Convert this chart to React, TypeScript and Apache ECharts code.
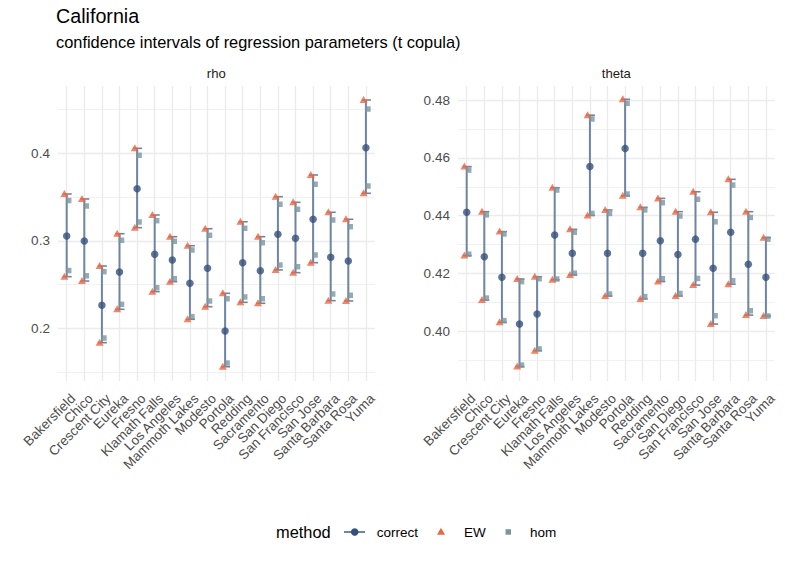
import React, { useEffect, useRef } from 'react';
import * as echarts from 'echarts';

const cities = ['Bakersfield', 'Chico', 'Crescent City', 'Eureka', 'Fresno', 'Klamath Falls', 'Los Angeles', 'Mammoth Lakes', 'Modesto', 'Portola', 'Redding', 'Sacramento', 'San Diego', 'San Francisco', 'San Jose', 'Santa Barbara', 'Santa Rosa', 'Yuma'];

// rho panel
const rhoEstimate = [0.3055, 0.2998, 0.2263, 0.2643, 0.3595, 0.2845, 0.278, 0.2514, 0.2686, 0.197, 0.275, 0.2658, 0.3074, 0.3028, 0.3246, 0.2811, 0.2769, 0.4064];
const rhoCorrectLower = [0.259, 0.254, 0.1836, 0.2217, 0.315, 0.2419, 0.2533, 0.2103, 0.2247, 0.1561, 0.2297, 0.2286, 0.2667, 0.2636, 0.275, 0.2316, 0.2312, 0.3543];
const rhoCorrectUpper = [0.3535, 0.3478, 0.2712, 0.3081, 0.4057, 0.3295, 0.3047, 0.2944, 0.3138, 0.24, 0.3218, 0.3047, 0.3504, 0.344, 0.3752, 0.3326, 0.3246, 0.4609];
const rhoEwLower = [0.259, 0.254, 0.1836, 0.2217, 0.315, 0.2419, 0.2533, 0.2103, 0.2247, 0.1561, 0.2297, 0.2286, 0.2667, 0.2636, 0.275, 0.2316, 0.2312, 0.3543];
const rhoEwUpper = [0.3535, 0.3478, 0.2712, 0.3081, 0.4057, 0.3295, 0.3047, 0.2944, 0.3138, 0.24, 0.3218, 0.3047, 0.3504, 0.344, 0.3752, 0.3326, 0.3246, 0.4609];
const rhoHomLower = [0.266, 0.26, 0.1889, 0.2274, 0.3215, 0.2464, 0.2567, 0.2133, 0.2312, 0.1603, 0.2358, 0.2338, 0.2723, 0.2704, 0.2838, 0.2392, 0.2377, 0.3626];
const rhoHomUpper = [0.346, 0.3398, 0.2647, 0.3006, 0.3977, 0.323, 0.2994, 0.2895, 0.3063, 0.2338, 0.3143, 0.2978, 0.3417, 0.336, 0.3646, 0.3238, 0.3161, 0.4506];

// theta panel
const thetaEstimate = [0.4412, 0.4258, 0.4187, 0.4025, 0.406, 0.4333, 0.427, 0.457, 0.427, 0.4633, 0.427, 0.4313, 0.4266, 0.4319, 0.4218, 0.4343, 0.4232, 0.4187];
const thetaCorrectLower = [0.4262, 0.4108, 0.4031, 0.3878, 0.3933, 0.4178, 0.4195, 0.4401, 0.4122, 0.4469, 0.4112, 0.4172, 0.4122, 0.416, 0.4025, 0.4163, 0.4056, 0.4053];
const thetaCorrectUpper = [0.457, 0.4414, 0.4345, 0.4181, 0.4189, 0.4497, 0.4353, 0.4748, 0.442, 0.4803, 0.4429, 0.446, 0.4414, 0.4483, 0.4412, 0.4526, 0.4414, 0.4324];
const thetaEwLower = [0.4262, 0.4108, 0.4031, 0.3878, 0.3933, 0.4178, 0.4195, 0.4401, 0.4122, 0.4469, 0.4112, 0.4172, 0.4122, 0.416, 0.4025, 0.4163, 0.4056, 0.4053];
const thetaEwUpper = [0.457, 0.4414, 0.4345, 0.4181, 0.4189, 0.4497, 0.4353, 0.4748, 0.442, 0.4803, 0.4429, 0.446, 0.4414, 0.4483, 0.4412, 0.4526, 0.4414, 0.4324];
const thetaHomLower = [0.4267, 0.4115, 0.4037, 0.3883, 0.3939, 0.4181, 0.4201, 0.4408, 0.4129, 0.4475, 0.412, 0.4182, 0.4131, 0.4183, 0.4054, 0.4175, 0.4071, 0.4053];
const thetaHomUpper = [0.4558, 0.4403, 0.4337, 0.4172, 0.4182, 0.4489, 0.4343, 0.4735, 0.4408, 0.4789, 0.442, 0.4445, 0.4399, 0.4457, 0.4379, 0.4506, 0.4394, 0.4319];

// axis ticks
const rhoMajorTicks = [0.2, 0.3, 0.4];
const rhoTickLabels = ['0.2', '0.3', '0.4'];
const rhoMinorTicks = [0.15, 0.25, 0.35, 0.45];
const thetaMajorTicks = [0.4, 0.42, 0.44, 0.46, 0.48];
const thetaTickLabels = ['0.40', '0.42', '0.44', '0.46', '0.48'];
const thetaMinorTicks = [0.39, 0.41, 0.43, 0.45, 0.47];

const panelNames = ['rho', 'theta'];
const methods = ['correct', 'EW', 'hom'];

const FONT = "'Liberation Sans', Arial, Helvetica, sans-serif";
const DOT = '#37507a';
const LINE = '#7085a3';
const EWC = '#f0653f';
const HOMC = '#7b95a0';
const GRID = '#ebebeb';

function buildPanel(p: number, est: number[], cLo: number[], cHi: number[], ewLo: number[], ewHi: number[], hLo: number[], hHi: number[], major: number[], majorLabels: string[], minor: number[]) {
  const gridLines: any[] = [];
  cities.forEach((c) => gridLines.push({ xAxis: c, lineStyle: { color: GRID, width: 1.3, type: 'solid' }, label: { show: false } }));
  minor.forEach((v) => gridLines.push({ yAxis: v, lineStyle: { color: GRID, width: 0.7, type: 'solid' }, label: { show: false } }));
  major.forEach((v, k) => gridLines.push({
    yAxis: v,
    lineStyle: { color: GRID, width: 1.3, type: 'solid' },
    label: { show: true, position: 'start', distance: 8, formatter: majorLabels[k], color: '#4d4d4d', fontSize: 13.5, fontFamily: FONT },
  }));
  return [
    {
      type: 'line', xAxisIndex: p, yAxisIndex: p, z: 0, silent: true,
      data: cities.map((c, i) => [c, est[i]]), showSymbol: false, lineStyle: { opacity: 0 },
      markLine: { z: 0, silent: true, symbol: ['none', 'none'], animation: false, data: gridLines },
    },
    {
      type: 'custom', name: methods[0], xAxisIndex: p, yAxisIndex: p, z: 2,
      data: cities.map((c, i) => [i, cLo[i], cHi[i]]),
      encode: { x: 0, y: [1, 2] },
      renderItem: (params: any, api: any) => {
        const x = api.value(0);
        const lo = api.coord([x, api.value(1)]);
        const hi = api.coord([x, api.value(2)]);
        return {
          type: 'group',
          children: [
            { type: 'line', shape: { x1: lo[0], y1: lo[1], x2: hi[0], y2: hi[1] }, style: { stroke: LINE, lineWidth: 2 } },
            { type: 'line', shape: { x1: lo[0] - 4, y1: lo[1], x2: lo[0] + 5, y2: lo[1] }, style: { stroke: LINE, lineWidth: 1.6 } },
            { type: 'line', shape: { x1: hi[0] - 4, y1: hi[1], x2: hi[0] + 5, y2: hi[1] }, style: { stroke: LINE, lineWidth: 1.6 } },
          ],
        };
      },
    },
    {
      type: 'scatter', name: methods[1], xAxisIndex: p, yAxisIndex: p, z: 3,
      symbol: 'triangle', symbolSize: [8, 7], symbolOffset: [-2.3, -0.5],
      itemStyle: { color: EWC },
      data: cities.map((c, i) => [i, ewLo[i]]).concat(cities.map((c, i) => [i, ewHi[i]])),
    },
    {
      type: 'scatter', name: methods[2], xAxisIndex: p, yAxisIndex: p, z: 4,
      symbol: 'rect', symbolSize: [5.5, 5.5], symbolOffset: [2, 0],
      itemStyle: { color: HOMC },
      data: cities.map((c, i) => [i, hLo[i]]).concat(cities.map((c, i) => [i, hHi[i]])),
    },
    {
      type: 'scatter', name: methods[0] + ' estimate', xAxisIndex: p, yAxisIndex: p, z: 5,
      symbol: 'circle', symbolSize: 7.5,
      itemStyle: { color: DOT },
      data: cities.map((c, i) => [i, est[i]]),
    },
  ];
}

export default function App() {
  const ref = useRef<HTMLDivElement>(null);
  useEffect(() => {
    document.body.style.margin = '0';
    if (!ref.current) return;
    const chart = echarts.init(ref.current, null, { renderer: 'svg' });
    const xAxisBase = (p: number) => ({
      type: 'category', gridIndex: p, data: cities, boundaryGap: true,
      axisLine: { show: false }, axisTick: { show: false }, splitLine: { show: false },
      axisLabel: { interval: 0, rotate: 45, align: 'right', verticalAlign: 'top', lineHeight: 18, margin: 9, fontSize: 13.5, color: '#4d4d4d', fontFamily: FONT },
    });
    const yAxisBase = (p: number, min: number, max: number) => ({
      type: 'value', gridIndex: p, min, max, scale: true,
      axisLine: { show: false }, axisTick: { show: false }, splitLine: { show: false }, axisLabel: { show: false },
    });
    const option: any = {
      animation: false,
      grid: [
        { left: 57.9, top: 86, width: 316.8, height: 295 },
        { left: 457.9, top: 86, width: 316.8, height: 295 },
      ],
      xAxis: [xAxisBase(0), xAxisBase(1)],
      yAxis: [yAxisBase(0, 0.1398, 0.4769), yAxisBase(1, 0.3828, 0.4849)],
      series: [
        ...buildPanel(0, rhoEstimate, rhoCorrectLower, rhoCorrectUpper, rhoEwLower, rhoEwUpper, rhoHomLower, rhoHomUpper, rhoMajorTicks, rhoTickLabels, rhoMinorTicks),
        ...buildPanel(1, thetaEstimate, thetaCorrectLower, thetaCorrectUpper, thetaEwLower, thetaEwUpper, thetaHomLower, thetaHomUpper, thetaMajorTicks, thetaTickLabels, thetaMinorTicks),
      ],
      graphic: [
        { type: 'text', left: 56, top: 6, style: { text: 'California', fontSize: 19.7, fill: '#000', fontFamily: FONT } },
        { type: 'text', left: 56, top: 34, style: { text: 'confidence intervals of regression parameters (t copula)', fontSize: 16.4, fill: '#000', fontFamily: FONT } },
        { type: 'text', x: 216.3, y: 73.5, style: { text: panelNames[0], fontSize: 13.1, fill: '#1a1a1a', fontFamily: FONT, align: 'center', verticalAlign: 'middle' } },
        { type: 'text', x: 616.3, y: 73.5, style: { text: panelNames[1], fontSize: 13.1, fill: '#1a1a1a', fontFamily: FONT, align: 'center', verticalAlign: 'middle' } },
        { type: 'text', x: 276, y: 532, style: { text: 'method', fontSize: 16.4, fill: '#000', fontFamily: FONT, verticalAlign: 'middle' } },
        { type: 'line', shape: { x1: 344, y1: 532, x2: 365, y2: 532 }, style: { stroke: LINE, lineWidth: 2 } },
        { type: 'circle', shape: { cx: 354.7, cy: 532, r: 3.8 }, style: { fill: DOT } },
        { type: 'text', x: 376.7, y: 532, style: { text: methods[0], fontSize: 13.5, fill: '#000', fontFamily: FONT, verticalAlign: 'middle' } },
        { type: 'polygon', shape: { points: [[441, 527.8], [445, 534.8], [437, 534.8]] }, style: { fill: EWC } },
        { type: 'text', x: 464, y: 532, style: { text: methods[1], fontSize: 13.5, fill: '#000', fontFamily: FONT, verticalAlign: 'middle' } },
        { type: 'rect', shape: { x: 505.5, y: 529.2, width: 5.5, height: 5.5 }, style: { fill: HOMC } },
        { type: 'text', x: 530, y: 532, style: { text: methods[2], fontSize: 13.5, fill: '#000', fontFamily: FONT, verticalAlign: 'middle' } },
      ],
    };
    chart.setOption(option);
    return () => chart.dispose();
  }, []);
  return <div ref={ref} style={{ width: 785, height: 561, background: '#fff' }} />;
}
